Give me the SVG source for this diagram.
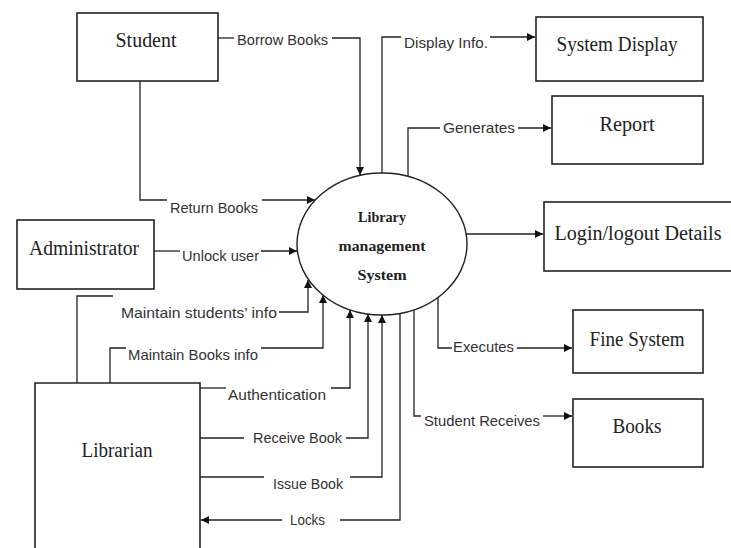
<svg xmlns="http://www.w3.org/2000/svg" width="731" height="548" viewBox="0 0 731 548">
<style>
.box{fill:#fff;stroke:#222;stroke-width:1.6}
.bt{font-family:"Liberation Serif","Times New Roman",serif;font-size:20px;fill:#222;text-anchor:middle}
.et{font-family:"Liberation Serif","Times New Roman",serif;font-size:15px;font-weight:bold;fill:#222;text-anchor:middle}
.lb{font-family:"Liberation Sans",Arial,sans-serif;font-size:15px;fill:#333}
.c{fill:none;stroke:#222;stroke-width:1.3}
.a{marker-end:url(#ah)}
</style>
<defs>
<marker id="ah" viewBox="0 0 10 10" refX="10" refY="5" markerWidth="10" markerHeight="8" markerUnits="userSpaceOnUse" orient="auto">
<path d="M0,0 L10,5 L0,10 z" fill="#111"/>
</marker>
</defs>
<rect width="731" height="548" fill="#fff"/>

<g id="connectors">
<path class="c" d="M218,38 H234"/>
<path class="c a" d="M332,38 H360 V175"/>
<path class="c" d="M140,81 V200 H167"/>
<path class="c a" d="M262,200 H315"/>
<path class="c" d="M154,251 H180"/>
<path class="c a" d="M261,251 H297"/>
<path class="c" d="M77,383 V296 H113"/>
<path class="c a" d="M279,312 H308 V280"/>
<path class="c" d="M110,383 V348 H126"/>
<path class="c a" d="M261,348 H323 V295"/>
<path class="c" d="M200,388 H226"/>
<path class="c a" d="M331,388 H350 V310"/>
<path class="c" d="M200,438 H244"/>
<path class="c a" d="M346,438 H368 V314"/>
<path class="c" d="M200,477 H264"/>
<path class="c a" d="M350,477 H382 V315"/>
<path class="c" d="M400,313 V520 H340"/>
<path class="c a" d="M282,520 H201"/>
<path class="c" d="M382,173 V37 H401"/>
<path class="c a" d="M490,37 H535"/>
<path class="c" d="M408,176 V128 H440"/>
<path class="c a" d="M518,128 H551"/>
<path class="c a" d="M466,234 H543"/>
<path class="c" d="M438,297 V348 H452"/>
<path class="c a" d="M517,348 H572"/>
<path class="c" d="M414,310 V416 H421"/>
<path class="c a" d="M543,416 H572"/>
<text class="lb" x="237" y="45" textLength="91" lengthAdjust="spacingAndGlyphs">Borrow Books</text>
<text class="lb" x="170" y="213" textLength="88" lengthAdjust="spacingAndGlyphs">Return Books</text>
<text class="lb" x="182" y="261" textLength="77" lengthAdjust="spacingAndGlyphs">Unlock user</text>
<text class="lb" x="121" y="318" textLength="156" lengthAdjust="spacingAndGlyphs">Maintain students’ info</text>
<text class="lb" x="128" y="360" textLength="130" lengthAdjust="spacingAndGlyphs">Maintain Books info</text>
<text class="lb" x="228" y="400" textLength="98" lengthAdjust="spacingAndGlyphs">Authentication</text>
<text class="lb" x="253" y="443" textLength="89" lengthAdjust="spacingAndGlyphs">Receive Book</text>
<text class="lb" x="273" y="489" textLength="70" lengthAdjust="spacingAndGlyphs">Issue Book</text>
<text class="lb" x="290" y="525" textLength="35" lengthAdjust="spacingAndGlyphs">Locks</text>
<text class="lb" x="404" y="48" textLength="84" lengthAdjust="spacingAndGlyphs">Display Info.</text>
<text class="lb" x="443" y="133" textLength="72" lengthAdjust="spacingAndGlyphs">Generates</text>
<text class="lb" x="453" y="352" textLength="61" lengthAdjust="spacingAndGlyphs">Executes</text>
<text class="lb" x="424" y="426" textLength="116" lengthAdjust="spacingAndGlyphs">Student Receives</text>
</g>

<g id="system">
<ellipse cx="382" cy="244" rx="85" ry="71" fill="#fff" stroke="#222" stroke-width="1.4"/>
<text class="et" x="382" y="222" textLength="48" lengthAdjust="spacingAndGlyphs">Library</text>
<text class="et" x="382" y="251" textLength="87" lengthAdjust="spacingAndGlyphs">management</text>
<text class="et" x="382" y="280" textLength="49" lengthAdjust="spacingAndGlyphs">System</text>
</g>

<g id="student">
<rect class="box" x="77" y="13" width="141" height="68"/>
<text class="bt" x="146" y="47" textLength="61" lengthAdjust="spacingAndGlyphs">Student</text>
</g>
<g id="administrator">
<rect class="box" x="17" y="220" width="137" height="69"/>
<text class="bt" x="84" y="255" textLength="110" lengthAdjust="spacingAndGlyphs">Administrator</text>
</g>
<g id="librarian">
<path class="box" d="M35,560 V383 H200 V560"/>
<text class="bt" x="117" y="457" textLength="71" lengthAdjust="spacingAndGlyphs">Librarian</text>
</g>
<g id="system-display">
<rect class="box" x="536" y="17" width="167" height="64"/>
<text class="bt" x="617" y="51" textLength="121" lengthAdjust="spacingAndGlyphs">System Display</text>
</g>
<g id="report">
<rect class="box" x="552" y="96" width="151" height="68"/>
<text class="bt" x="627" y="131" textLength="55" lengthAdjust="spacingAndGlyphs">Report</text>
</g>
<g id="login-details">
<rect class="box" x="544" y="202" width="200" height="69"/>
<text class="bt" x="638" y="240" textLength="167" lengthAdjust="spacingAndGlyphs">Login/logout Details</text>
</g>
<g id="fine-system">
<rect class="box" x="573" y="310" width="130" height="63"/>
<text class="bt" x="637" y="346" textLength="95" lengthAdjust="spacingAndGlyphs">Fine System</text>
</g>
<g id="books">
<rect class="box" x="573" y="399" width="130" height="68"/>
<text class="bt" x="637" y="433" textLength="49" lengthAdjust="spacingAndGlyphs">Books</text>
</g>
</svg>
